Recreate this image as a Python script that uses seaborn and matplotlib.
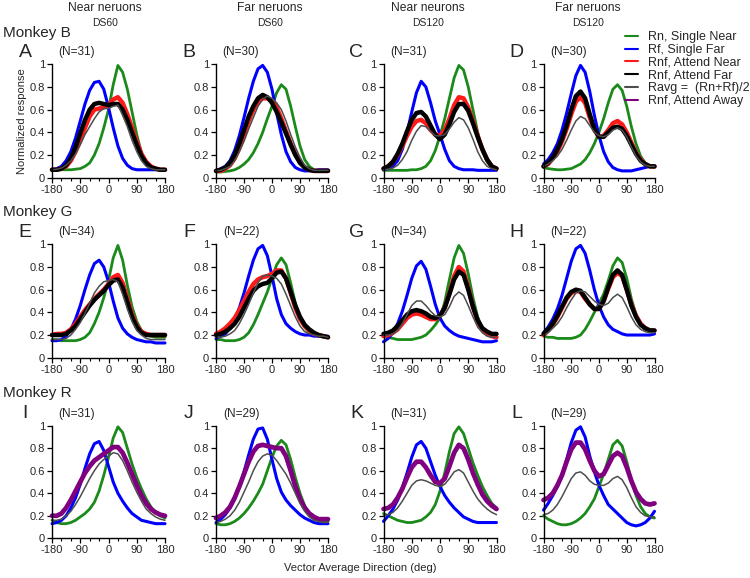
import matplotlib
matplotlib.use("Agg")
import matplotlib.pyplot as plt
from matplotlib.lines import Line2D
from matplotlib.ticker import MultipleLocator
import pandas as pd
import seaborn as sns

DIRS = [-180, -165, -150, -135, -120, -105, -90, -75, -60, -45, -30, -15, 0,
        15, 30, 45, 60, 75, 90, 105, 120, 135, 150, 165, 180]

# ---------------- Monkey B ----------------
A_rn = [0.07,0.07,0.07,0.07,0.07,0.075,0.08,0.1,0.13,0.2,0.3,0.44,0.6,0.82,0.99,0.93,0.78,0.58,0.38,0.22,0.13,0.09,0.075,0.07,0.07]
A_rf = [0.07,0.08,0.1,0.15,0.23,0.35,0.5,0.65,0.77,0.84,0.85,0.78,0.62,0.44,0.28,0.17,0.11,0.08,0.07,0.07,0.07,0.07,0.07,0.07,0.07]
A_near = [0.07,0.07,0.08,0.1,0.15,0.23,0.33,0.44,0.54,0.6,0.61,0.62,0.64,0.69,0.71,0.66,0.56,0.44,0.32,0.21,0.14,0.1,0.08,0.07,0.07]
A_far = [0.07,0.07,0.08,0.11,0.17,0.27,0.39,0.51,0.6,0.65,0.66,0.65,0.64,0.65,0.65,0.6,0.51,0.4,0.29,0.19,0.13,0.09,0.08,0.07,0.07]
A_avg = [0.07,0.075,0.085,0.11,0.15,0.21,0.29,0.38,0.45,0.52,0.58,0.61,0.61,0.63,0.64,0.55,0.45,0.33,0.23,0.15,0.1,0.08,0.07,0.07,0.07]

B_rn = [0.05,0.05,0.055,0.06,0.07,0.09,0.12,0.16,0.22,0.3,0.4,0.52,0.63,0.75,0.82,0.78,0.63,0.45,0.28,0.16,0.1,0.07,0.06,0.06,0.06]
B_rf = [0.06,0.08,0.1,0.15,0.24,0.37,0.53,0.7,0.85,0.96,0.99,0.93,0.78,0.57,0.38,0.23,0.14,0.09,0.07,0.06,0.06,0.06,0.07,0.07,0.07]
B_near = [0.06,0.06,0.08,0.11,0.17,0.26,0.38,0.5,0.6,0.67,0.7,0.7,0.68,0.62,0.52,0.41,0.3,0.21,0.14,0.09,0.07,0.06,0.06,0.06,0.06]
B_far = [0.06,0.07,0.09,0.13,0.2,0.3,0.42,0.54,0.63,0.7,0.73,0.71,0.66,0.58,0.49,0.39,0.29,0.2,0.13,0.09,0.07,0.06,0.06,0.06,0.06]
B_avg = [0.06,0.065,0.08,0.1,0.15,0.23,0.32,0.43,0.53,0.63,0.69,0.72,0.7,0.66,0.6,0.5,0.38,0.27,0.18,0.11,0.08,0.065,0.065,0.065,0.065]

C_rn = [0.065,0.065,0.065,0.065,0.065,0.065,0.07,0.07,0.08,0.1,0.15,0.24,0.37,0.52,0.7,0.88,0.99,0.95,0.8,0.6,0.4,0.24,0.14,0.09,0.07]
C_rf = [0.07,0.08,0.1,0.15,0.25,0.4,0.58,0.75,0.85,0.8,0.66,0.5,0.38,0.25,0.15,0.1,0.08,0.07,0.07,0.07,0.065,0.065,0.065,0.065,0.065]
C_near = [0.08,0.1,0.14,0.2,0.28,0.37,0.45,0.5,0.51,0.48,0.42,0.38,0.37,0.42,0.52,0.64,0.71,0.7,0.62,0.5,0.37,0.25,0.16,0.1,0.08]
C_far = [0.08,0.1,0.14,0.21,0.3,0.41,0.51,0.57,0.58,0.54,0.46,0.38,0.34,0.38,0.47,0.58,0.65,0.65,0.59,0.48,0.36,0.25,0.16,0.1,0.08]
C_avg = [0.07,0.075,0.085,0.11,0.16,0.23,0.33,0.41,0.46,0.45,0.41,0.37,0.37,0.38,0.43,0.49,0.53,0.51,0.44,0.34,0.23,0.15,0.1,0.08,0.07]

D_rn = [0.09,0.08,0.075,0.07,0.07,0.075,0.08,0.1,0.12,0.16,0.22,0.3,0.4,0.52,0.66,0.78,0.82,0.77,0.63,0.45,0.3,0.19,0.13,0.1,0.09]
D_rf = [0.12,0.16,0.22,0.3,0.42,0.57,0.74,0.9,0.99,0.93,0.76,0.55,0.37,0.23,0.14,0.09,0.07,0.06,0.06,0.06,0.07,0.08,0.09,0.1,0.1]
D_near = [0.1,0.12,0.17,0.23,0.32,0.43,0.56,0.67,0.71,0.66,0.53,0.42,0.36,0.37,0.42,0.48,0.5,0.47,0.4,0.31,0.22,0.16,0.12,0.1,0.1]
D_far = [0.1,0.13,0.18,0.25,0.34,0.46,0.6,0.72,0.76,0.7,0.56,0.43,0.36,0.36,0.4,0.44,0.45,0.43,0.37,0.29,0.21,0.15,0.12,0.1,0.1]
D_avg = [0.1,0.12,0.15,0.19,0.25,0.33,0.42,0.5,0.54,0.52,0.46,0.4,0.37,0.36,0.38,0.42,0.44,0.42,0.36,0.27,0.19,0.14,0.11,0.1,0.1]

# ---------------- Monkey G ----------------
E_rn = [0.16,0.16,0.15,0.15,0.15,0.15,0.16,0.18,0.22,0.3,0.4,0.53,0.68,0.88,0.99,0.86,0.64,0.45,0.32,0.24,0.2,0.19,0.18,0.18,0.18]
E_rf = [0.15,0.15,0.16,0.19,0.25,0.34,0.46,0.6,0.73,0.83,0.86,0.8,0.67,0.5,0.35,0.26,0.21,0.18,0.16,0.15,0.14,0.14,0.13,0.13,0.13]
E_near = [0.2,0.21,0.21,0.22,0.25,0.3,0.36,0.42,0.47,0.52,0.56,0.6,0.65,0.71,0.73,0.66,0.52,0.38,0.28,0.23,0.21,0.2,0.2,0.2,0.2]
E_far = [0.2,0.2,0.2,0.21,0.24,0.28,0.34,0.4,0.46,0.51,0.55,0.59,0.64,0.68,0.69,0.62,0.49,0.36,0.27,0.22,0.2,0.2,0.2,0.2,0.2]
E_avg = [0.16,0.16,0.16,0.17,0.2,0.25,0.31,0.39,0.48,0.57,0.63,0.67,0.68,0.69,0.67,0.56,0.43,0.32,0.24,0.2,0.17,0.16,0.16,0.16,0.16]

F_rn = [0.16,0.16,0.15,0.15,0.15,0.16,0.18,0.22,0.29,0.38,0.48,0.58,0.7,0.82,0.88,0.82,0.66,0.48,0.35,0.27,0.22,0.2,0.19,0.18,0.18]
F_rf = [0.17,0.19,0.21,0.26,0.33,0.44,0.57,0.72,0.86,0.96,0.99,0.9,0.72,0.52,0.38,0.3,0.26,0.23,0.21,0.2,0.2,0.19,0.19,0.19,0.19]
F_near = [0.21,0.23,0.26,0.3,0.35,0.42,0.5,0.58,0.65,0.69,0.71,0.72,0.74,0.77,0.77,0.7,0.57,0.44,0.34,0.28,0.24,0.21,0.2,0.19,0.18]
F_far = [0.2,0.21,0.23,0.26,0.3,0.36,0.44,0.52,0.59,0.63,0.65,0.66,0.7,0.75,0.76,0.7,0.58,0.46,0.36,0.29,0.25,0.22,0.2,0.19,0.18]
F_avg = [0.18,0.18,0.19,0.21,0.24,0.3,0.38,0.47,0.57,0.66,0.72,0.73,0.72,0.7,0.65,0.56,0.46,0.36,0.28,0.23,0.21,0.2,0.19,0.19,0.18]

G_rn = [0.19,0.18,0.17,0.16,0.16,0.16,0.16,0.17,0.18,0.2,0.24,0.29,0.35,0.49,0.69,0.88,0.99,0.92,0.74,0.53,0.36,0.26,0.21,0.19,0.19]
G_rf = [0.14,0.17,0.22,0.3,0.41,0.55,0.7,0.81,0.85,0.78,0.63,0.47,0.35,0.28,0.24,0.21,0.19,0.18,0.17,0.16,0.15,0.14,0.14,0.14,0.15]
G_near = [0.19,0.2,0.22,0.25,0.3,0.35,0.38,0.39,0.38,0.36,0.34,0.34,0.37,0.44,0.57,0.72,0.8,0.76,0.62,0.45,0.32,0.25,0.21,0.19,0.18]
G_far = [0.21,0.22,0.24,0.28,0.33,0.38,0.41,0.42,0.41,0.39,0.36,0.35,0.37,0.44,0.56,0.69,0.76,0.73,0.6,0.45,0.33,0.26,0.23,0.21,0.21]
G_avg = [0.2,0.2,0.21,0.24,0.3,0.38,0.46,0.5,0.5,0.46,0.41,0.37,0.36,0.38,0.45,0.54,0.58,0.55,0.46,0.36,0.27,0.22,0.19,0.18,0.18]

H_rn = [0.19,0.18,0.18,0.17,0.17,0.17,0.17,0.18,0.2,0.25,0.32,0.4,0.48,0.56,0.68,0.81,0.88,0.84,0.7,0.52,0.38,0.3,0.26,0.24,0.23]
H_rf = [0.22,0.27,0.34,0.43,0.55,0.7,0.85,0.96,0.99,0.92,0.77,0.6,0.46,0.36,0.29,0.25,0.23,0.21,0.2,0.2,0.2,0.2,0.2,0.2,0.21]
H_near = [0.2,0.24,0.29,0.36,0.44,0.52,0.57,0.59,0.58,0.52,0.47,0.43,0.43,0.5,0.61,0.71,0.75,0.72,0.6,0.47,0.37,0.3,0.26,0.24,0.24]
H_far = [0.21,0.25,0.3,0.37,0.45,0.53,0.58,0.6,0.59,0.53,0.47,0.43,0.43,0.5,0.62,0.73,0.77,0.73,0.6,0.46,0.36,0.29,0.26,0.24,0.24]
H_avg = [0.2,0.22,0.26,0.3,0.36,0.44,0.51,0.57,0.59,0.58,0.54,0.5,0.47,0.46,0.48,0.53,0.56,0.53,0.45,0.36,0.29,0.25,0.23,0.22,0.22]

# ---------------- Monkey R ----------------
I_rn = [0.16,0.14,0.13,0.13,0.14,0.16,0.19,0.22,0.26,0.32,0.42,0.56,0.72,0.89,0.99,0.94,0.8,0.66,0.54,0.44,0.35,0.28,0.23,0.2,0.18]
I_rf = [0.13,0.14,0.16,0.2,0.27,0.36,0.48,0.62,0.75,0.84,0.86,0.78,0.64,0.5,0.4,0.33,0.27,0.22,0.19,0.16,0.15,0.14,0.13,0.13,0.13]
I_away = [0.2,0.2,0.22,0.27,0.34,0.42,0.5,0.58,0.64,0.69,0.72,0.75,0.78,0.81,0.81,0.76,0.67,0.57,0.47,0.38,0.31,0.26,0.23,0.21,0.2]
I_avg = [0.16,0.16,0.17,0.2,0.24,0.3,0.37,0.45,0.53,0.6,0.66,0.7,0.73,0.76,0.75,0.69,0.6,0.5,0.41,0.33,0.26,0.22,0.19,0.17,0.16]

J_rn = [0.13,0.12,0.12,0.13,0.15,0.18,0.22,0.27,0.33,0.4,0.48,0.6,0.72,0.82,0.87,0.83,0.7,0.54,0.4,0.29,0.22,0.18,0.16,0.15,0.15]
J_rf = [0.14,0.17,0.21,0.27,0.35,0.46,0.59,0.74,0.88,0.97,0.98,0.88,0.7,0.53,0.41,0.34,0.29,0.25,0.21,0.18,0.16,0.14,0.13,0.13,0.13]
J_away = [0.18,0.2,0.23,0.28,0.36,0.46,0.57,0.68,0.77,0.82,0.83,0.82,0.81,0.8,0.8,0.73,0.6,0.46,0.35,0.27,0.22,0.19,0.17,0.17,0.17]
J_avg = [0.14,0.15,0.17,0.2,0.25,0.32,0.41,0.5,0.6,0.68,0.73,0.75,0.74,0.69,0.63,0.57,0.49,0.4,0.31,0.24,0.19,0.16,0.15,0.14,0.14]

K_rn = [0.22,0.2,0.18,0.16,0.15,0.14,0.14,0.15,0.16,0.19,0.23,0.3,0.42,0.58,0.77,0.93,0.99,0.93,0.8,0.67,0.56,0.46,0.38,0.31,0.27]
K_rf = [0.15,0.2,0.26,0.34,0.45,0.58,0.72,0.83,0.86,0.8,0.68,0.56,0.46,0.38,0.32,0.27,0.23,0.19,0.17,0.15,0.14,0.14,0.14,0.14,0.14]
K_away = [0.26,0.27,0.3,0.36,0.44,0.54,0.63,0.68,0.68,0.63,0.56,0.5,0.49,0.53,0.64,0.76,0.83,0.8,0.7,0.58,0.48,0.39,0.33,0.29,0.26]
K_avg = [0.2,0.21,0.23,0.27,0.33,0.4,0.47,0.51,0.52,0.51,0.49,0.47,0.46,0.48,0.53,0.59,0.61,0.58,0.5,0.42,0.35,0.3,0.26,0.23,0.21]

L_rn = [0.2,0.17,0.15,0.13,0.12,0.12,0.13,0.15,0.18,0.22,0.28,0.35,0.46,0.57,0.7,0.83,0.87,0.82,0.68,0.52,0.38,0.28,0.22,0.19,0.18]
L_rf = [0.25,0.31,0.38,0.46,0.56,0.7,0.85,0.96,0.99,0.9,0.73,0.59,0.47,0.38,0.3,0.26,0.22,0.18,0.14,0.12,0.11,0.12,0.14,0.18,0.24]
L_away = [0.34,0.36,0.4,0.47,0.56,0.68,0.79,0.85,0.85,0.79,0.69,0.6,0.55,0.57,0.65,0.73,0.76,0.73,0.63,0.51,0.41,0.35,0.31,0.3,0.31]
L_avg = [0.21,0.22,0.25,0.3,0.37,0.45,0.53,0.58,0.59,0.56,0.51,0.48,0.47,0.47,0.49,0.53,0.55,0.52,0.45,0.36,0.28,0.23,0.2,0.19,0.19]

PANEL_LETTERS = ["A", "B", "C", "D", "E", "F", "G", "H", "I", "J", "K", "L"]
N_COUNTS = [31, 30, 31, 30, 34, 22, 34, 22, 31, 29, 31, 29]
COLUMN_TITLES = [("Near neruons", "DS60"), ("Far neruons", "DS60"),
                 ("Near neurons", "DS120"), ("Far neruons", "DS120")]
MONKEYS = ["Monkey B", "Monkey G", "Monkey R"]
X_TICKS = [-180, -90, 0, 90, 180]
Y_TICKS = [0, 0.2, 0.4, 0.6, 0.8, 1]
Y_TICK_LABELS = ["0", "0.2", "0.4", "0.6", "0.8", "1"]

COND_ORDER = ["rn", "rf", "near", "far", "away", "avg"]
COND_LABELS = {"rn": "Rn, Single Near", "rf": "Rf, Single Far",
               "near": "Rnf, Attend Near", "far": "Rnf, Attend Far",
               "avg": "Ravg =  (Rn+Rf)/2", "away": "Rnf, Attend Away"}
LEGEND_ORDER = ["rn", "rf", "near", "far", "avg", "away"]
COLORS = {"rn": "#1a8a1a", "rf": "#0000ff", "near": "#ff1a1a",
          "far": "#000000", "avg": "#4d4d4d", "away": "#800080"}
WIDTHS = {"rn": 2.0, "rf": 2.2, "near": 3.2, "far": 3.2, "avg": 1.1, "away": 3.4}

panel_series = {
    "A": {"rn": A_rn, "rf": A_rf, "near": A_near, "far": A_far, "avg": A_avg},
    "B": {"rn": B_rn, "rf": B_rf, "near": B_near, "far": B_far, "avg": B_avg},
    "C": {"rn": C_rn, "rf": C_rf, "near": C_near, "far": C_far, "avg": C_avg},
    "D": {"rn": D_rn, "rf": D_rf, "near": D_near, "far": D_far, "avg": D_avg},
    "E": {"rn": E_rn, "rf": E_rf, "near": E_near, "far": E_far, "avg": E_avg},
    "F": {"rn": F_rn, "rf": F_rf, "near": F_near, "far": F_far, "avg": F_avg},
    "G": {"rn": G_rn, "rf": G_rf, "near": G_near, "far": G_far, "avg": G_avg},
    "H": {"rn": H_rn, "rf": H_rf, "near": H_near, "far": H_far, "avg": H_avg},
    "I": {"rn": I_rn, "rf": I_rf, "away": I_away, "avg": I_avg},
    "J": {"rn": J_rn, "rf": J_rf, "away": J_away, "avg": J_avg},
    "K": {"rn": K_rn, "rf": K_rf, "away": K_away, "avg": K_avg},
    "L": {"rn": L_rn, "rf": L_rf, "away": L_away, "avg": L_avg},
}

rows = []
for p, series in panel_series.items():
    for cond, vals in series.items():
        for d, v in zip(DIRS, vals):
            rows.append({"panel": p, "cond": cond, "dir": d, "resp": v})
df = pd.DataFrame(rows)

sns.set_theme(style="ticks")
plt.rcParams["font.family"] = ["Liberation Sans", "DejaVu Sans"]
plt.rcParams["axes.linewidth"] = 1.0

W, H = 750, 578
fig = plt.figure(figsize=(W / 100, H / 100), dpi=100)

col_left = [52, 216, 383.5, 543.5]
col_w = [113, 112, 113, 111]
row_top = [64.3, 244.3, 425.7]
row_bot = [177.7, 357.7, 538.3]


def fx(x):
    return x / W


def fy(y):
    return 1 - y / H


axes = []
for i, p in enumerate(PANEL_LETTERS):
    r, c = divmod(i, 4)
    l, w = col_left[c], col_w[c]
    t, b = row_top[r], row_bot[r]
    ax = fig.add_axes([fx(l), fy(b), w / W, (b - t) / H])
    sub = df[df["panel"] == p]
    for cond in COND_ORDER:
        s = sub[sub["cond"] == cond]
        if s.empty:
            continue
        sns.lineplot(data=s, x="dir", y="resp", color=COLORS[cond],
                     linewidth=WIDTHS[cond], ax=ax, estimator=None,
                     legend=False)
    ax.set_xlim(-180, 180)
    ax.set_ylim(0, 1)
    ax.set_xticks(X_TICKS)
    ax.set_xticklabels([str(v) for v in X_TICKS])
    ax.xaxis.set_minor_locator(MultipleLocator(30))
    ax.set_yticks(Y_TICKS)
    ax.set_yticklabels(Y_TICK_LABELS)
    ax.tick_params(axis="both", which="major", direction="out", length=3.5,
                   width=0.9, labelsize=8, pad=1.5, color="black")
    ax.tick_params(axis="x", which="minor", direction="out", length=2,
                   width=0.8, color="black")
    ax.set_xlabel("")
    ax.set_ylabel("")
    for sp in ["top", "right"]:
        ax.spines[sp].set_visible(False)
    for sp in ["left", "bottom"]:
        ax.spines[sp].set_color("black")
    for line in ax.lines:
        line.set_clip_on(False)
    axes.append(ax)
    # panel letter and N
    fig.text(fx(l - 27), fy(t - 12), p, fontsize=14, ha="center", va="center")
    fig.text(fx(l + 25), fy(t - 12), f"(N={N_COUNTS[i]})", fontsize=8.5,
             ha="center", va="center")

axes[0].set_ylabel("Normalized response", fontsize=8, labelpad=2)

# column titles
title_x = [105, 270, 428, 588]
for (t1, t2), x in zip(COLUMN_TITLES, title_x):
    fig.text(fx(x), fy(8), t1, fontsize=8.7, ha="center", va="center")
    fig.text(fx(x), fy(23), t2, fontsize=7.5, ha="center", va="center")

# monkey labels
for name, y in zip(MONKEYS, [33, 212, 393]):
    fig.text(fx(3), fy(y), name, fontsize=11, ha="left", va="center")

fig.text(fx(360), fy(568), "Vector Average Direction (deg)", fontsize=8,
         ha="center", va="center")

handles = [Line2D([0], [0], color=COLORS[c], lw=1.5) for c in LEGEND_ORDER]
labels = [COND_LABELS[c] for c in LEGEND_ORDER]
fig.legend(handles, labels, loc="upper left", bbox_to_anchor=(fx(625), fy(31)),
           frameon=False, fontsize=9, handlelength=1.0, handletextpad=0.8,
           labelspacing=0.07, borderaxespad=0, borderpad=0)

fig.savefig("out.png", dpi=100)
